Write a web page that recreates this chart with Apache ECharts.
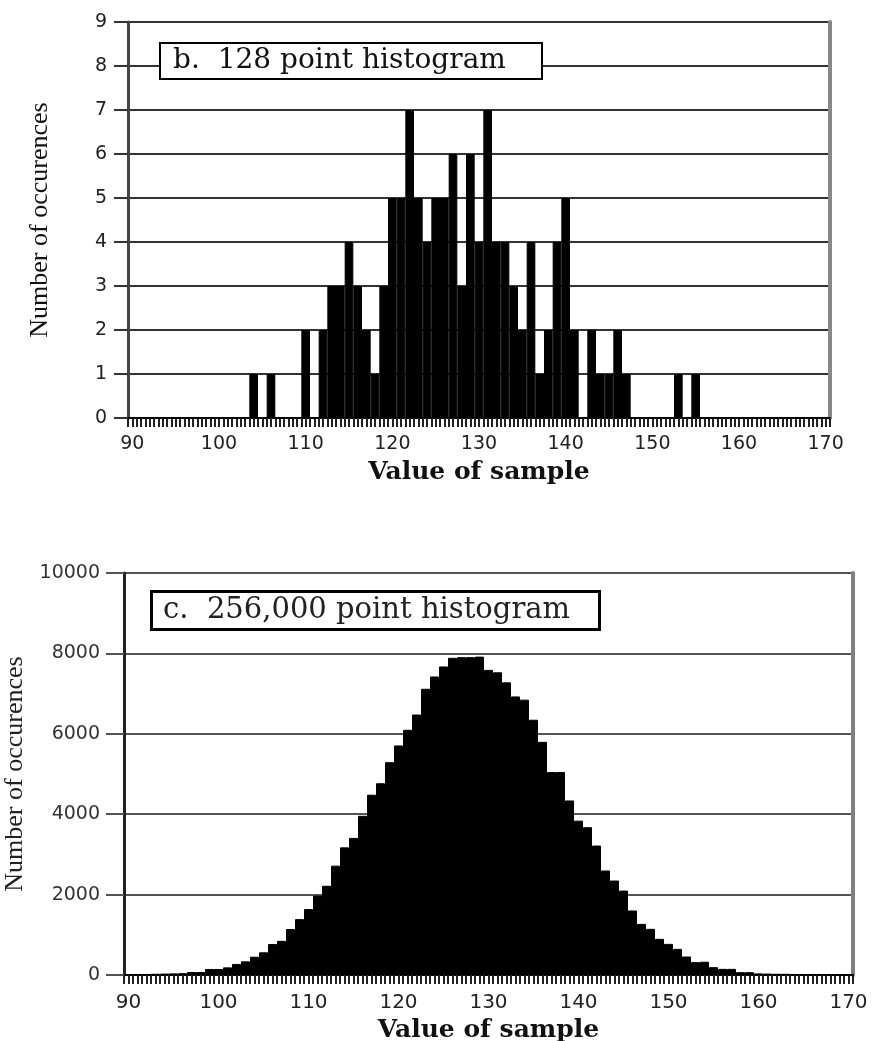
<!DOCTYPE html>
<html><head><meta charset="utf-8">
<script src="https://cdn.jsdelivr.net/npm/echarts@6/dist/echarts.min.js"></script>
<style>html,body{margin:0;padding:0;background:#fff}#c{width:874px;height:1041px}</style>
</head><body><div id="c"></div>
<script>
const categories = ['90','91','92','93','94','95','96','97','98','99',
 '100','101','102','103','104','105','106','107','108','109',
 '110','111','112','113','114','115','116','117','118','119',
 '120','121','122','123','124','125','126','127','128','129',
 '130','131','132','133','134','135','136','137','138','139',
 '140','141','142','143','144','145','146','147','148','149',
 '150','151','152','153','154','155','156','157','158','159',
 '160','161','162','163','164','165','166','167','168','169','170'];

// b. 128 point histogram (counts for values 90..170)
const counts128 = [0,0,0,0,0,0,0,0,0,0,
 0,0,0,0,1,0,1,0,0,0,
 2,0,2,3,3,4,3,2,1,3,
 5,5,7,5,4,5,5,6,3,6,
 4,7,4,4,3,2,4,1,2,4,
 5,2,0,2,1,1,2,1,0,0,
 0,0,0,1,0,1,0,0,0,0,
 0,0,0,0,0,0,0,0,0,0,0];

// c. 256,000 point histogram (counts for values 90..170)
const counts256k = [20,20,25,30,35,40,45,75,75,150,
 150,190,275,340,455,565,770,850,1145,1390,
 1640,1975,2220,2720,3175,3410,3960,4485,4770,5295,
 5710,6100,6480,7120,7426,7675,7890,7907,7907,7920,
 7590,7530,7280,6930,6850,6350,5800,5050,5050,4342,
 3840,3677,3220,2600,2350,2100,1605,1272,1148,900,
 775,650,460,320,330,195,153,153,70,70,
 40,35,30,30,25,20,20,15,15,10,10];

const titleB = 'b.  128 point histogram';
const titleC = 'c.  256,000 point histogram';
const xName = 'Value of sample';
const yName = 'Number of occurences';

const chart = echarts.init(document.getElementById('c'), null, {renderer:'canvas'});

function catAxis(grid, margin, fs, nameGap) {
  return {
    type:'category', gridIndex:grid, data:categories, boundaryGap:true,
    axisLine:{show:true, lineStyle:{color:'#000', width:2}},
    axisTick:{show:false},
    axisLabel:{interval:9, margin:margin, fontFamily:'DejaVu Sans', fontSize:fs, color:'#222'},
    splitLine:{show:false},
    name:xName, nameLocation:'middle', nameGap:nameGap,
    nameTextStyle:{fontFamily:'DejaVu Serif', fontSize:25, fontWeight:'bold', color:'#111'}
  };
}
function tickAxis(grid) {
  return {
    type:'value', gridIndex:grid, min:89.5, max:170.5, interval:0.5, position:'bottom',
    axisLine:{show:false},
    axisTick:{show:true, length:9, lineStyle:{color:'#222', width:2}},
    axisLabel:{show:false}, splitLine:{show:false}
  };
}
const plain = v => String(v);

const option = {
  animation:false,
  backgroundColor:'#fff',
  title:[
    {text:titleB, left:160, top:43, borderColor:'#000', borderWidth:2, backgroundColor:'#fff',
     padding:[4,36,4,13], textStyle:{fontFamily:'DejaVu Serif', fontSize:28, fontWeight:'normal', color:'#111'}},
    {text:titleC, left:151, top:591, borderColor:'#000', borderWidth:3, backgroundColor:'#fff',
     padding:[5,30,5,12], textStyle:{fontFamily:'DejaVu Serif', fontSize:29, fontWeight:'normal', color:'#222'}}
  ],
  grid:[
    {left:128, top:22, width:702, height:396, outerBoundsMode:'none', containLabel:false},
    {left:124, top:573, width:729, height:402, outerBoundsMode:'none', containLabel:false}
  ],
  xAxis:[
    catAxis(0, 17, 19, 42),
    tickAxis(0),
    catAxis(1, 18, 20, 43),
    tickAxis(1)
  ],
  yAxis:[
    {type:'value', gridIndex:0, min:0, max:9, interval:1,
     axisLine:{show:true, lineStyle:{color:'#444', width:3}},
     axisTick:{show:true, length:14, lineStyle:{color:'#333', width:2}},
     axisLabel:{margin:21, fontFamily:'DejaVu Sans', fontSize:19, color:'#222', formatter:plain},
     splitLine:{show:true, lineStyle:{color:'#333', width:2}},
     name:yName, nameLocation:'middle', nameGap:75, nameRotate:90,
     nameTextStyle:{fontFamily:'Liberation Serif', fontSize:26, color:'#111'}},
    {type:'value', gridIndex:0, min:0, max:9, interval:1, position:'right',
     axisLine:{show:true, lineStyle:{color:'#888', width:4}},
     axisTick:{show:false}, axisLabel:{show:false}, splitLine:{show:false}},
    {type:'value', gridIndex:1, min:0, max:10000, interval:2000,
     axisLine:{show:true, lineStyle:{color:'#222', width:3}},
     axisTick:{show:true, length:18, lineStyle:{color:'#555', width:2}},
     axisLabel:{margin:24, fontFamily:'DejaVu Sans', fontSize:19, color:'#333', formatter:plain},
     splitLine:{show:true, lineStyle:{color:'#555', width:2}},
     name:yName, nameLocation:'middle', nameGap:80, nameRotate:90,
     nameTextStyle:{fontFamily:'Liberation Serif', fontSize:26, color:'#222'}},
    {type:'value', gridIndex:1, min:0, max:10000, interval:2000, position:'right',
     axisLine:{show:true, lineStyle:{color:'#808080', width:4}},
     axisTick:{show:false}, axisLabel:{show:false}, splitLine:{show:false}}
  ],
  series:[
    {type:'bar', xAxisIndex:0, yAxisIndex:0, data:counts128, barCategoryGap:'0%',
     itemStyle:{color:'#000', borderColor:'#000', borderWidth:1}, silent:true},
    {type:'bar', xAxisIndex:2, yAxisIndex:2, data:counts256k, barCategoryGap:'0%',
     itemStyle:{color:'#000', borderColor:'#000', borderWidth:1}, silent:true}
  ]
};
chart.setOption(option);
</script>
</body></html>
